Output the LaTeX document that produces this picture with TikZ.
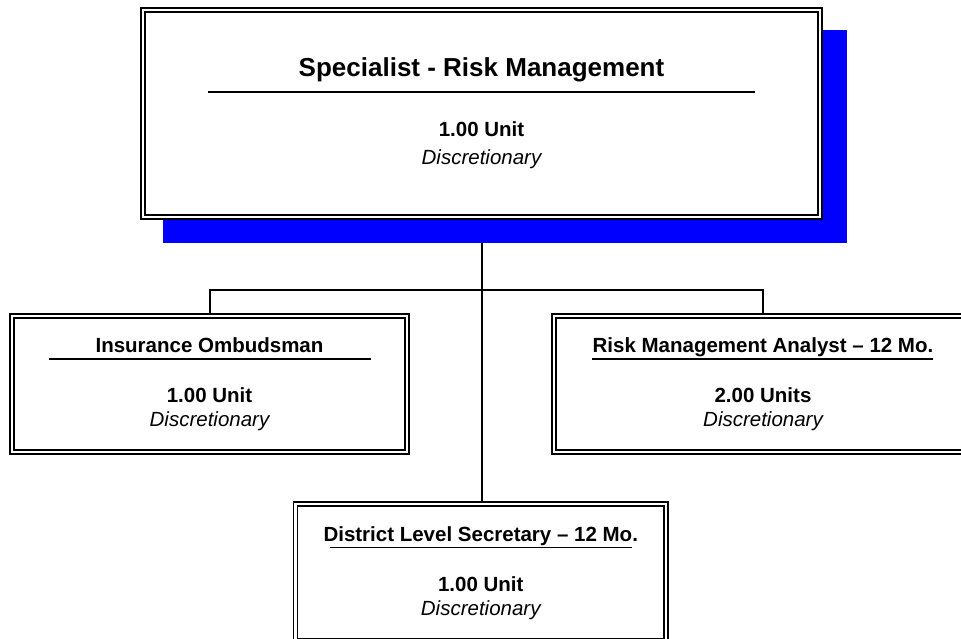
\documentclass[tikz,border=0pt]{standalone}
\usepackage{fontspec}
\setmainfont{Liberation Sans}
\usepackage{xcolor}
\usepackage{tikz}
\usetikzlibrary{calc,backgrounds}
\definecolor{ink}{HTML}{000000}
\definecolor{drop}{HTML}{0000FF}
\tikzset{
  post/.style={draw=ink, double=white, double distance=2.4pt, line width=1.6pt, fill=white, inner sep=0pt, outer sep=0pt},
  link/.style={draw=ink, line width=2pt},
  rule/.style={draw=ink, line width=1.8pt},
  headlbl/.style={text=ink, anchor=base, inner sep=0pt, font=\fontsize{26}{30}\selectfont\bfseries},
  postlbl/.style={text=ink, anchor=base, inner sep=0pt, font=\fontsize{20.5}{24}\selectfont\bfseries},
  unitlbl/.style={text=ink, anchor=base, inner sep=0pt, font=\fontsize{20.5}{24}\selectfont\bfseries},
  kindlbl/.style={text=ink, anchor=base, inner sep=0pt, font=\fontsize{20.5}{24}\selectfont\itshape}
}

\begin{document}
\begin{tikzpicture}[x=1pt, y=1pt]
  \useasboundingbox (0,0) rectangle (961,639);

  % boxes
  \node[post, minimum width=677.4pt, minimum height=207.4pt] (head) at (481.5,525.5) {};
  \node[post, minimum width=395.4pt, minimum height=136.4pt] (ombud) at (209.5,255) {};
  \node[post, minimum width=418.4pt, minimum height=136.4pt] (analyst) at (763,255) {};
  \node[post, minimum width=370.9pt, minimum height=136.4pt] (secretary) at (480.75,66.5) {};

  % connectors and shadow behind the boxes
  \coordinate (fork) at (481.5,349);
  \begin{scope}[on background layer]
    \draw[link] (head.south) -- (fork);
    \draw[link] (ombud.north) |- (fork) -| (analyst.north);
    \draw[link] (fork) -- (fork |- secretary.north);
    \fill[drop] ($(head.south west)+(20.2,-25.8)$) rectangle ($(head.north east)+(26.8,-20.2)$);
  \end{scope}

  % top post
  \node[headlbl] (headttl) at ($(head.north)+(0,-67.2)$) {Specialist - Risk Management};
  \draw[rule] ($(head.north)+(-273.5,-82.2)$) -- ++(547,0);
  \node[unitlbl] (headunit) at ($(head.north)+(0,-127.2)$) {1.00 Unit};
  \node[kindlbl] (headkind) at ($(head.north)+(0,-155.2)$) {Discretionary};

  % left post
  \node[postlbl] (ombudttl) at ($(ombud.north)+(0,-37.2)$) {Insurance Ombudsman};
  \draw[rule] ($(ombud.north)+(-160.5,-43.2)$) -- ++(322,0);
  \node[unitlbl] (ombudunit) at ($(ombud.north)+(0,-87.2)$) {1.00 Unit};
  \node[kindlbl] (ombudkind) at ($(ombud.north)+(0,-111.2)$) {Discretionary};

  % right post
  \node[postlbl] (analystttl) at ($(analyst.north)+(0,-37.2)$) {Risk Management Analyst – 12 Mo.};
  \draw[rule] ($(analyst.north)+(-171,-43.2)$) -- ++(341,0);
  \node[unitlbl] (analystunit) at ($(analyst.north)+(0,-87.2)$) {2.00 Units};
  \node[kindlbl] (analystkind) at ($(analyst.north)+(0,-111.2)$) {Discretionary};

  % bottom post
  \node[postlbl] (secretaryttl) at ($(secretary.north)+(0,-37.2)$) {District Level Secretary – 12 Mo.};
  \draw[rule] ($(secretary.north)+(-150.75,-43.2)$) -- ++(302,0);
  \node[unitlbl] (secretaryunit) at ($(secretary.north)+(0,-87.2)$) {1.00 Unit};
  \node[kindlbl] (secretarykind) at ($(secretary.north)+(0,-111.2)$) {Discretionary};
\end{tikzpicture}
\end{document}
